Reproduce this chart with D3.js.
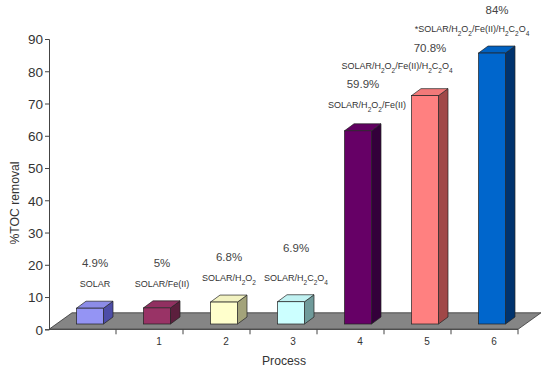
<!DOCTYPE html>
<html>
<head>
<meta charset="utf-8">
<script src="https://cdn.jsdelivr.net/npm/d3@7"></script>
<style>
  body { margin: 0; background: #fff; }
  svg { font-family: "Liberation Sans", Arial, sans-serif; }
  .tick text { fill: #333; }
</style>
</head>
<body>
<div class="chart"></div>
<script>
// process ticks (first one has no label)
const processes = ["p0", "1", "2", "3", "4", "5", "6"]
const tickLabels = ["", "1", "2", "3", "4", "5", "6"]
const treatments = ["SOLAR", "SOLAR/Fe(II)", "SOLAR/H_2O_2", "SOLAR/H_2C_2O_4",
    "SOLAR/H_2O_2/Fe(II)", "SOLAR/H_2O_2/Fe(II)/H_2C_2O_4", "*SOLAR/H_2O_2/Fe(II)/H_2C_2O_4"]
const removal = [4.9, 5, 6.8, 6.9, 59.9, 70.8, 84]
const valueLabels = ["4.9%", "5%", "6.8%", "6.9%", "59.9%", "70.8%", "84%"]
const yTicks = [0, 10, 20, 30, 40, 50, 60, 70, 80, 90]

const colors = ["#9494f4", "#993366", "#ffffcc", "#ccffff", "#660066", "#ff8080", "#0066cc"]
const sideColors = ["#4d4da8", "#5c1f3d", "#a3a37a", "#6f9a9a", "#33003a", "#a04848", "#00336e"]

// hand nudges for the labels, like the original
const labelShiftX = [0, 0, 0, 0, 4, -33, -25]
const labelShiftY = [0, 0, 0, 0, -2, -6, 0]
const valueGap = [20, 20, 20, 29, 20, 17, 18]

const width = 550
const height = 371

const svg = d3.select(".chart").append("svg")
    .attr("width", width)
    .attr("height", height)

const x = d3.scaleBand()
    .domain(processes)
    .range([49, 518])
    .paddingInner(0)
    .paddingOuter(0)

const y = d3.scaleLinear()
    .domain([0, 90])
    .range([329.3, 39])

// floor depth
const fdx = 23, fdy = -16.5
// bar geometry
const barOff = 27.5, barW = 27, bdx = 9.5, bdy = -7, barBase = y(0) - 5.3

// grey floor
svg.append("path")
    .attr("d", "M" + x.range()[0] + "," + y(0) +
        " L" + (x.range()[0] + fdx) + "," + (y(0) + fdy) +
        " L" + (x.range()[1] + fdx) + "," + (y(0) + fdy) +
        " L" + x.range()[1] + "," + y(0) + " Z")
    .attr("fill", "#858585")
    .attr("stroke", "#333")
    .attr("stroke-width", 0.8)

// y axis
const yAxis = d3.axisLeft(y)
    .tickValues(yTicks)
    .tickSize(4)
    .tickPadding(2)

const yg = svg.append("g")
    .attr("transform", "translate(" + x.range()[0] + ",0)")
    .call(yAxis)
yg.select(".domain").attr("stroke", "#444")
yg.selectAll(".tick line").attr("stroke", "#444")
yg.selectAll(".tick text")
    .style("font-size", "13.5px")
    .attr("dy", "0.36em")

// x axis line + ticks at band edges
svg.append("line")
    .attr("x1", x.range()[0]).attr("x2", x.range()[1])
    .attr("y1", y(0)).attr("y2", y(0))
    .attr("stroke", "#444")

svg.selectAll("line.xtick")
    .data(processes)
    .enter()
    .append("line")
    .attr("class", "xtick")
    .attr("x1", d => x(d) + x.bandwidth())
    .attr("x2", d => x(d) + x.bandwidth())
    .attr("y1", y(0))
    .attr("y2", y(0) + 5)
    .attr("stroke", "#444")

svg.selectAll("text.xlab")
    .data(processes)
    .enter()
    .append("text")
    .attr("class", "xlab")
    .attr("x", d => x(d) + barOff + barW / 2 + 2)
    .attr("y", 345)
    .attr("text-anchor", "middle")
    .style("font-size", "10px")
    .attr("fill", "#333")
    .text((d, i) => tickLabels[i])

// bars (front, top, side)
const bars = svg.selectAll("g.bar")
    .data(removal)
    .enter()
    .append("g")
    .attr("class", "bar")

function barX(i) { return x(processes[i]) + barOff }
function barTop(v) { return barBase - (y(0) - y(v)) }

bars.append("path")
    .attr("d", (v, i) => {
        let x0 = barX(i) + barW, t = barTop(v)
        return "M" + x0 + "," + barBase + " L" + x0 + "," + t +
            " L" + (x0 + bdx) + "," + (t + bdy) + " L" + (x0 + bdx) + "," + (barBase + bdy) + " Z"
    })
    .attr("fill", (v, i) => sideColors[i])
    .attr("stroke", "#222")
    .attr("stroke-width", 0.7)

bars.append("path")
    .attr("d", (v, i) => {
        let x0 = barX(i), t = barTop(v)
        return "M" + x0 + "," + t + " L" + (x0 + bdx) + "," + (t + bdy) +
            " L" + (x0 + barW + bdx) + "," + (t + bdy) + " L" + (x0 + barW) + "," + t + " Z"
    })
    .attr("fill", (v, i) => d3.color(colors[i]).darker(0.15))
    .attr("stroke", "#222")
    .attr("stroke-width", 0.7)

bars.append("rect")
    .attr("x", (v, i) => barX(i))
    .attr("y", v => barTop(v))
    .attr("width", barW)
    .attr("height", v => barBase - barTop(v))
    .attr("fill", (v, i) => colors[i])
    .attr("stroke", "#222")
    .attr("stroke-width", 0.7)

// labels above each bar
function addSubscripts(sel, str) {
    let parts = str.split(/_(\d)/)
    parts.forEach(function(p, k) {
        if (p === "") return
        if (k % 2 == 1) {
            sel.append("tspan")
                .attr("baseline-shift", "sub")
                .style("font-size", "6.5px")
                .text(p)
        } else {
            sel.append("tspan").text(p)
        }
    })
}

bars.each(function(v, i) {
    let g = d3.select(this)
    let cx = barX(i) + barW / 2 + 5
    let top = barTop(v) + bdy
    let catY = top - 14 + labelShiftY[i]
    let t = g.append("text")
        .attr("x", cx + labelShiftX[i])
        .attr("y", catY)
        .attr("text-anchor", "middle")
        .style("font-size", "9px")
        .attr("fill", "#333")
    addSubscripts(t, treatments[i])

    g.append("text")
        .attr("x", cx)
        .attr("y", catY - valueGap[i])
        .attr("text-anchor", "middle")
        .style("font-size", "11.5px")
        .attr("fill", "#444")
        .text(valueLabels[i])
})

// axis titles
svg.append("text")
    .attr("transform", "translate(19,203) rotate(-90)")
    .attr("text-anchor", "middle")
    .style("font-size", "12.2px")
    .attr("fill", "#333")
    .text("%TOC removal")

svg.append("text")
    .attr("x", 284)
    .attr("y", 365)
    .attr("text-anchor", "middle")
    .style("font-size", "12.2px")
    .attr("fill", "#333")
    .text("Process")
</script>
</body>
</html>
